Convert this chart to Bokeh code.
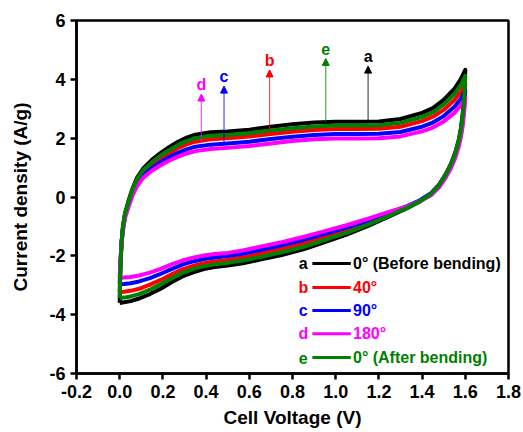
from bokeh.plotting import figure
from bokeh.models import FixedTicker, Arrow, NormalHead, Range1d
from bokeh.core.properties import value
from bokeh.embed import file_html
from bokeh.resources import INLINE

# ---------------- data ----------------
series_keys = ["a", "b", "c", "d", "e"]
series_names = ["0° (Before bending)", "40°", "90°", "180°", "0° (After bending)"]
series_colors = ["#000000", "#ff0000", "#0000ff", "#ff00ff", "#008000"]

# forward (anodic) scan, 0 -> 1.6 V
up_v = [0.0, 0.003, 0.008, 0.015, 0.025, 0.04, 0.06, 0.08, 0.11, 0.15, 0.19, 0.23, 0.27,
        0.31, 0.35, 0.42, 0.5, 0.6, 0.7, 0.8, 0.9, 1.0, 1.1, 1.2, 1.3, 1.4, 1.45, 1.5,
        1.55, 1.58, 1.6]
up_a = [-3.6, -2.5, -1.6, -1.0, -0.55, -0.15, 0.3, 0.65, 0.98, 1.27, 1.5, 1.7, 1.88,
        2.02, 2.12, 2.2, 2.23, 2.29, 2.39, 2.47, 2.53, 2.56, 2.56, 2.57, 2.65, 2.86, 3.02,
        3.3, 3.68, 4.02, 4.32]
up_b = [-3.23, -2.4, -1.6, -1.05, -0.6, -0.25, 0.2, 0.52, 0.84, 1.1, 1.32, 1.5, 1.66,
        1.79, 1.88, 1.96, 2.0, 2.06, 2.14, 2.22, 2.28, 2.31, 2.31, 2.32, 2.39, 2.58, 2.73,
        2.96, 3.3, 3.58, 3.86]
up_c = [-2.97, -2.3, -1.6, -1.1, -0.65, -0.3, 0.13, 0.44, 0.74, 0.99, 1.19, 1.36, 1.5,
        1.62, 1.71, 1.78, 1.82, 1.88, 1.97, 2.05, 2.11, 2.14, 2.14, 2.15, 2.21, 2.39, 2.53,
        2.75, 3.07, 3.34, 3.62]
up_d = [-2.75, -2.2, -1.6, -1.15, -0.7, -0.35, 0.06, 0.36, 0.66, 0.9, 1.08, 1.24, 1.37,
        1.48, 1.56, 1.63, 1.67, 1.73, 1.82, 1.9, 1.96, 1.99, 1.99, 2.0, 2.06, 2.23, 2.36,
        2.57, 2.86, 3.12, 3.38]
up_e = [-3.43, -2.5, -1.6, -1.0, -0.55, -0.2, 0.27, 0.6, 0.92, 1.19, 1.42, 1.6, 1.77,
        1.9, 2.0, 2.08, 2.11, 2.17, 2.26, 2.34, 2.4, 2.43, 2.43, 2.44, 2.52, 2.72, 2.88,
        3.14, 3.5, 3.82, 4.12]

# reverse (cathodic) scan, 1.6 -> 0 V
dn_v = [1.6, 1.597, 1.593, 1.588, 1.58, 1.57, 1.555, 1.535, 1.51, 1.48, 1.44, 1.39, 1.33,
        1.25, 1.15, 1.05, 0.95, 0.85, 0.75, 0.65, 0.57, 0.5, 0.44, 0.39, 0.34, 0.29, 0.24,
        0.19, 0.14, 0.09, 0.05, 0.02, 0.0]
dn_a = [4.32, 3.8, 3.3, 2.85, 2.35, 1.95, 1.55, 1.15, 0.78, 0.42, 0.1, -0.15, -0.38,
        -0.65, -0.98, -1.28, -1.53, -1.78, -1.97, -2.13, -2.25, -2.33, -2.38, -2.45, -2.56,
        -2.7, -2.9, -3.12, -3.3, -3.45, -3.54, -3.58, -3.6]
dn_b = [3.86, 3.45, 3.05, 2.68, 2.24, 1.88, 1.5, 1.12, 0.77, 0.42, 0.11, -0.13, -0.34,
        -0.58, -0.87, -1.13, -1.36, -1.59, -1.77, -1.93, -2.06, -2.14, -2.19, -2.25, -2.34,
        -2.46, -2.63, -2.82, -2.98, -3.12, -3.19, -3.22, -3.23]
dn_c = [3.62, 3.28, 2.92, 2.58, 2.17, 1.84, 1.48, 1.11, 0.77, 0.42, 0.12, -0.11, -0.31,
        -0.54, -0.8, -1.04, -1.25, -1.46, -1.64, -1.8, -1.93, -2.01, -2.06, -2.11, -2.19,
        -2.3, -2.45, -2.61, -2.76, -2.87, -2.93, -2.96, -2.97]
dn_d = [3.38, 3.08, 2.75, 2.42, 2.05, 1.72, 1.36, 1.0, 0.67, 0.34, 0.05, -0.14, -0.32,
        -0.5, -0.74, -0.96, -1.16, -1.36, -1.54, -1.69, -1.82, -1.9, -1.94, -1.99, -2.06,
        -2.16, -2.29, -2.44, -2.57, -2.67, -2.72, -2.74, -2.75]
dn_e = [4.12, 3.65, 3.2, 2.78, 2.3, 1.92, 1.52, 1.13, 0.77, 0.42, 0.1, -0.15, -0.37,
        -0.63, -0.94, -1.22, -1.46, -1.7, -1.88, -2.04, -2.16, -2.24, -2.29, -2.35, -2.45,
        -2.58, -2.77, -2.97, -3.15, -3.3, -3.38, -3.42, -3.43]

# arrows marking each curve (a..e)
arrow_v = [1.15, 0.694, 0.483, 0.378, 0.954]
arrow_base = [2.6, 2.17, 1.83, 1.9, 2.55]
arrow_tip = [4.45, 4.32, 3.77, 3.5, 4.71]

x_ticks = [-0.2, 0.0, 0.2, 0.4, 0.6, 0.8, 1.0, 1.2, 1.4, 1.6, 1.8]
x_tick_labels = ["-0.2", "0.0", "0.2", "0.4", "0.6", "0.8", "1.0", "1.2", "1.4", "1.6", "1.8"]
y_ticks = [-6, -4, -2, 0, 2, 4, 6]
y_tick_labels = ["-6", "-4", "-2", "0", "2", "4", "6"]

ups = [up_a, up_b, up_c, up_d, up_e]
dns = [dn_a, dn_b, dn_c, dn_d, dn_e]

# ---------------- figure ----------------
FONT = "Liberation Sans"
p = figure(width=523, height=432, x_range=Range1d(-0.2, 1.8), y_range=Range1d(-6, 6),
           output_backend="svg", toolbar_location=None,
           min_border_left=76, min_border_right=15, min_border_top=20, min_border_bottom=59)
p.xgrid.visible = False
p.ygrid.visible = False
p.background_fill_color = "white"
p.border_fill_color = "white"
p.outline_line_color = "black"
p.outline_line_width = 2.5
p.outline_line_alpha = 1.0

for ax, ticks, labels in ((p.xaxis[0], x_ticks, x_tick_labels), (p.yaxis[0], y_ticks, y_tick_labels)):
    ax.ticker = FixedTicker(ticks=ticks)
    ax.major_label_overrides = {t: l for t, l in zip(ticks, labels)}
    ax.axis_line_width = 2.5
    ax.axis_line_color = "black"
    ax.major_tick_line_width = 2.5
    ax.major_tick_line_color = "black"
    ax.major_tick_in = 0
    ax.major_tick_out = 6
    ax.minor_tick_line_color = None
    ax.major_label_text_font = FONT
    ax.major_label_text_font_style = "bold"
    ax.major_label_text_font_size = "18px"
    ax.major_label_text_color = "black"
    ax.axis_label_text_font = FONT
    ax.axis_label_text_font_style = "bold"
    ax.axis_label_text_font_size = "19px"
    ax.axis_label_text_color = "black"

p.xaxis.axis_label = "Cell Voltage (V)"
p.yaxis.axis_label = "Current density (A/g)"
p.xaxis.major_label_standoff = 5
p.xaxis.axis_label_standoff = 6
p.yaxis.major_label_standoff = 5
p.yaxis.axis_label_standoff = 15

# CV loops
for up, dn, col in zip(ups, dns, series_colors):
    p.line(up_v + dn_v, up + dn, line_color=col, line_width=4, line_join="round")

# arrows and letter labels
for k, xv, y0, y1, col in zip(series_keys, arrow_v, arrow_base, arrow_tip, series_colors):
    p.add_layout(Arrow(end=NormalHead(size=7, fill_color=col, line_color=col, line_width=1),
                       x_start=xv, y_start=y0, x_end=xv, y_end=y1,
                       line_color=col, line_width=1.2, line_alpha=0.7))
p.text(x=arrow_v, y=[t + 0.32 for t in arrow_tip], text=series_keys, text_color=series_colors,
       text_font=value(FONT), text_font_style="bold", text_font_size="16px",
       text_align="center", text_baseline="alphabetic")

# custom legend (letter, line, coloured label)
leg_letter_x = 0.85
leg_line_x0, leg_line_x1 = 0.892, 1.07
leg_text_x = 1.08
leg_rows = [-2.26, -3.08, -3.86, -4.65, -5.46]
p.text(x=[leg_letter_x] * 5, y=leg_rows, text=series_keys, text_color=series_colors,
       text_font=value(FONT), text_font_style="bold", text_font_size="16px",
       text_align="center", text_baseline="middle")
p.segment(x0=[leg_line_x0] * 5, x1=[leg_line_x1] * 5, y0=leg_rows, y1=leg_rows,
          line_color=series_colors, line_width=3)
p.text(x=[leg_text_x] * 5, y=leg_rows, text=series_names, text_color=series_colors,
       text_font=value(FONT), text_font_style="bold", text_font_size="16px",
       text_align="left", text_baseline="middle")

open("out.html", "w").write(file_html(p, INLINE))
